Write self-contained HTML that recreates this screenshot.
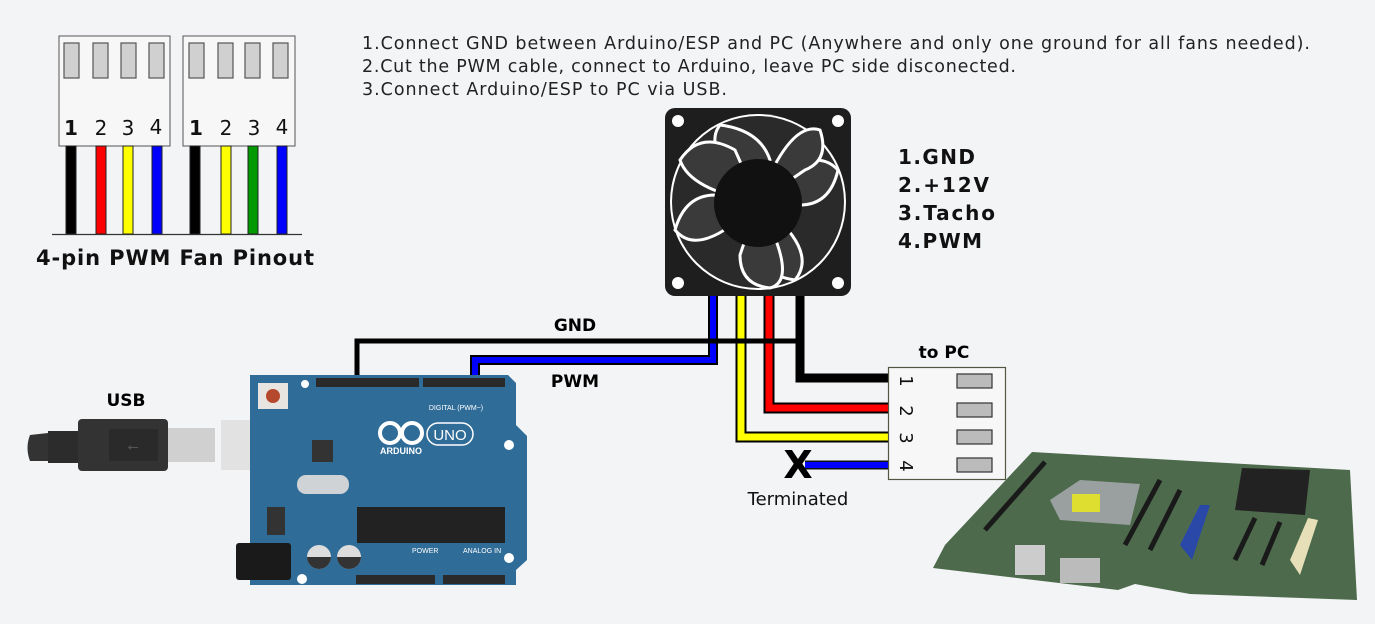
<!DOCTYPE html>
<html><head><meta charset="utf-8"><style>
html,body{margin:0;padding:0;background:#f3f4f6;}
svg{display:block;font-family:"Liberation Sans","DejaVu Sans",sans-serif;}
</style></head><body>
<svg width="1375" height="624" viewBox="0 0 1375 624" xmlns="http://www.w3.org/2000/svg">
<rect width="1375" height="624" fill="#f3f4f6"/>
<g stroke="#555" stroke-width="1">
<rect x="59" y="36" width="111" height="110" fill="#f7f7f7"/>
<rect x="183" y="36" width="112" height="110" fill="#f7f7f7"/>
</g>
<g fill="#d0d0d0" stroke="#555" stroke-width="1.2">
<rect x="64" y="43" width="15" height="35"/><rect x="93" y="43" width="15" height="35"/><rect x="121" y="43" width="15" height="35"/><rect x="149" y="43" width="15" height="35"/>
<rect x="189" y="43" width="15" height="35"/><rect x="218" y="43" width="15" height="35"/><rect x="245" y="43" width="15" height="35"/><rect x="273" y="43" width="15" height="35"/>
</g>
<g font-size="20" fill="#111" text-anchor="middle" font-family="DejaVu Sans,sans-serif">
<text x="71" y="135" font-weight="bold">1</text><text x="101" y="135">2</text><text x="128" y="135">3</text><text x="156" y="134">4</text>
<text x="196" y="135" font-weight="bold">1</text><text x="226" y="135">2</text><text x="254" y="135">3</text><text x="282" y="134">4</text>
</g>
<g stroke="#222" stroke-width="1">
<rect x="66" y="146" width="10" height="88" fill="#000"/>
<rect x="96" y="146" width="10" height="88" fill="#f00"/>
<rect x="123" y="146" width="10" height="88" fill="#ff0"/>
<rect x="152" y="146" width="10" height="88" fill="#00f"/>
<rect x="190" y="146" width="10" height="88" fill="#000"/>
<rect x="221" y="146" width="10" height="88" fill="#ff0"/>
<rect x="248" y="146" width="10" height="88" fill="#090"/>
<rect x="277" y="146" width="10" height="88" fill="#00f"/>
</g>
<line x1="52" y1="234.5" x2="302" y2="234.5" stroke="#333" stroke-width="1.2"/>
<text x="36" y="265" font-size="21" font-weight="bold" fill="#111" font-family="DejaVu Sans,sans-serif" textLength="278" lengthAdjust="spacing">4-pin PWM Fan Pinout</text>
<g font-size="17.5" fill="#222" font-family="DejaVu Sans,sans-serif">
<text x="362" y="49" textLength="948" lengthAdjust="spacing">1.Connect GND between Arduino/ESP and PC (Anywhere and only one ground for all fans needed).</text>
<text x="362" y="72" textLength="654" lengthAdjust="spacing">2.Cut the PWM cable, connect to Arduino, leave PC side disconected.</text>
<text x="362" y="95" textLength="365" lengthAdjust="spacing">3.Connect Arduino/ESP to PC via USB.</text>
</g>
<rect x="665" y="108" width="186" height="188" rx="10" fill="#1e1e1e"/>
<circle cx="758" cy="202" r="88" fill="#fff"/>
<circle cx="758" cy="202" r="86" fill="#2a2a2a"/>
<g fill="#3a3a3a" stroke="#fff" stroke-width="3">
<path d="M758 202 Q700 150 720 125 Q760 130 770 160Z"/>
<path d="M758 202 Q810 140 838 170 Q830 205 800 205Z"/>
<path d="M758 202 Q820 250 795 280 Q760 275 750 245Z"/>
<path d="M758 202 Q700 260 675 230 Q685 195 715 195Z"/>
<path d="M758 202 Q690 190 680 160 Q700 130 735 150Z"/>
<path d="M758 202 Q790 120 820 130 Q830 160 805 170Z"/>
<path d="M758 202 Q800 280 770 288 Q740 285 740 255Z"/>
</g>
<circle cx="758" cy="203" r="44" fill="#111"/>
<g fill="#fff"><circle cx="678" cy="121" r="6"/><circle cx="838" cy="121" r="6"/><circle cx="678" cy="283" r="6"/><circle cx="838" cy="283" r="6"/></g>
<g font-size="20" font-weight="bold" fill="#111" font-family="DejaVu Sans,sans-serif">
<text x="898" y="164" textLength="77" lengthAdjust="spacing">1.GND</text><text x="898" y="192" textLength="91" lengthAdjust="spacing">2.+12V</text><text x="898" y="220" textLength="97" lengthAdjust="spacing">3.Tacho</text><text x="898" y="248" textLength="84" lengthAdjust="spacing">4.PWM</text>
</g>
<g fill="none" stroke-linejoin="miter">
<path d="M713 296 V360 H475 V383" stroke="#000" stroke-width="10"/>
<path d="M713 296 V360 H475 V383" stroke="#00f" stroke-width="6"/>
<path d="M741 296 V437 H890" stroke="#000" stroke-width="11"/>
<path d="M741 296 V437 H890" stroke="#ff0" stroke-width="7"/>
<path d="M769 296 V408 H890" stroke="#000" stroke-width="11"/>
<path d="M769 296 V408 H890" stroke="#f00" stroke-width="7"/>
<path d="M800 296 V378 H890" stroke="#000" stroke-width="9"/>
<path d="M800 341 H357 V383" stroke="#000" stroke-width="5"/>
<path d="M805 465 H890" stroke="#111" stroke-width="9"/>
<path d="M805 465 H890" stroke="#00f" stroke-width="6"/>
</g>
<text x="798" y="478" font-size="38" font-weight="bold" text-anchor="middle" fill="#000" font-family="DejaVu Sans,sans-serif">X</text>
<text x="798" y="505" font-size="18" text-anchor="middle" fill="#111" font-family="DejaVu Sans,sans-serif">Terminated</text>
<text x="575" y="331" font-size="17" font-weight="bold" text-anchor="middle" font-family="DejaVu Sans,sans-serif">GND</text>
<text x="575" y="387" font-size="17" font-weight="bold" text-anchor="middle" font-family="DejaVu Sans,sans-serif">PWM</text>
<text x="944" y="358" font-size="17" font-weight="bold" text-anchor="middle" font-family="DejaVu Sans,sans-serif">to PC</text>
<text x="126" y="406" font-size="17" font-weight="bold" text-anchor="middle" font-family="DejaVu Sans,sans-serif">USB</text>
<rect x="888.5" y="367.5" width="117" height="112" fill="#f7f7f7" stroke="#554" stroke-width="1.2"/>
<g fill="#bbb" stroke="#333" stroke-width="1.2">
<rect x="957" y="374" width="35" height="14"/><rect x="957" y="403" width="35" height="14"/><rect x="957" y="430" width="35" height="14"/><rect x="957" y="458" width="35" height="14"/>
</g>
<g font-size="18" fill="#111" font-family="DejaVu Sans,sans-serif">
<text transform="translate(900,381) rotate(90)" text-anchor="middle">1</text>
<text transform="translate(900,411) rotate(90)" text-anchor="middle">2</text>
<text transform="translate(900,438) rotate(90)" text-anchor="middle">3</text>
<text transform="translate(900,466) rotate(90)" text-anchor="middle">4</text>
</g>
<path d="M30 435 Q25 448 30 461 L48 461 L48 433Z" fill="#333"/>
<rect x="48" y="431" width="30" height="32" fill="#2c2c2c"/>
<rect x="78" y="419" width="90" height="52" rx="4" fill="#333"/>
<rect x="109" y="429" width="49" height="32" fill="#2a2a2a"/>
<text x="133" y="451" font-size="14" fill="#555" text-anchor="middle">⭠</text>
<rect x="168" y="428" width="47" height="34" fill="#d0d0d0"/>
<rect x="221" y="420" width="66" height="50" fill="#e2e2e2"/>
<path d="M250 375 H508 L516 383 V425 L527 436 V560 L516 570 V585 H250Z" fill="#2f6c98"/>
<rect x="316" y="378" width="103" height="9" fill="#2a2a2a"/>
<rect x="423" y="378" width="82" height="9" fill="#2a2a2a"/>
<rect x="356" y="575" width="79" height="9" fill="#2a2a2a"/>
<rect x="443" y="575" width="62" height="9" fill="#2a2a2a"/>
<rect x="258" y="383" width="30" height="26" fill="#e8e4e0"/><circle cx="273" cy="396" r="7" fill="#b5492e"/>
<rect x="312" y="440" width="21" height="22" fill="#333"/>
<rect x="297" y="475" width="52" height="19" rx="9" fill="#cfd3d6"/>
<rect x="357" y="507" width="148" height="36" fill="#222"/>
<rect x="236" y="543" width="55" height="37" rx="3" fill="#1a1a1a"/>
<circle cx="319" cy="557" r="12" fill="#ddd"/><circle cx="349" cy="557" r="12" fill="#ddd"/>
<path d="M307 557 A12 12 0 0 0 331 557Z" fill="#333"/><path d="M337 557 A12 12 0 0 0 361 557Z" fill="#333"/>
<rect x="267" y="507" width="18" height="28" fill="#333"/>
<g fill="none" stroke="#fff" stroke-width="4"><circle cx="390" cy="433" r="10"/><circle cx="412" cy="433" r="10"/></g>
<rect x="427" y="423" width="46" height="22" rx="11" fill="none" stroke="#fff" stroke-width="1.5"/>
<text x="450" y="440" font-size="15" fill="#fff" text-anchor="middle">UNO</text>
<text x="401" y="454" font-size="9" font-weight="bold" fill="#fff" text-anchor="middle">ARDUINO</text>
<text x="456" y="410" font-size="7" fill="#fff" text-anchor="middle">DIGITAL (PWM~)</text>
<text x="412" y="553" font-size="7" fill="#fff">POWER</text>
<text x="463" y="553" font-size="7" fill="#fff">ANALOG IN</text>
<g fill="#fff"><circle cx="305" cy="384" r="4"/><circle cx="509" cy="445" r="5"/><circle cx="509" cy="558" r="5"/><circle cx="302" cy="579" r="5"/></g>
<path d="M933 568 L945 545 L1032 452 L1350 470 L1357 600 L1190 594 L1135 584 L1118 590 Z" fill="#4d6b4c"/>
<path d="M1050 500 L1080 480 L1140 484 L1130 525 L1060 520Z" fill="#9aa0a0"/>
<rect x="1072" y="494" width="28" height="18" fill="#dede30"/>
<path d="M1242 468 L1310 470 L1305 515 L1235 510Z" fill="#222"/>
<path d="M1180 545 L1200 505 L1210 505 L1192 560Z" fill="#2a48a8"/>
<path d="M1290 560 L1308 518 L1318 520 L1300 575Z" fill="#e6dfb8"/>
<g stroke="#1a1a1a" stroke-width="5"><line x1="985" y1="530" x2="1045" y2="462"/><line x1="1125" y1="545" x2="1160" y2="480"/><line x1="1150" y1="550" x2="1180" y2="490"/><line x1="1235" y1="560" x2="1255" y2="518"/><line x1="1262" y1="565" x2="1280" y2="522"/></g>
<rect x="1015" y="545" width="30" height="30" fill="#ccc"/>
<rect x="1060" y="558" width="40" height="25" fill="#bbb"/>
</svg>
</body></html>
